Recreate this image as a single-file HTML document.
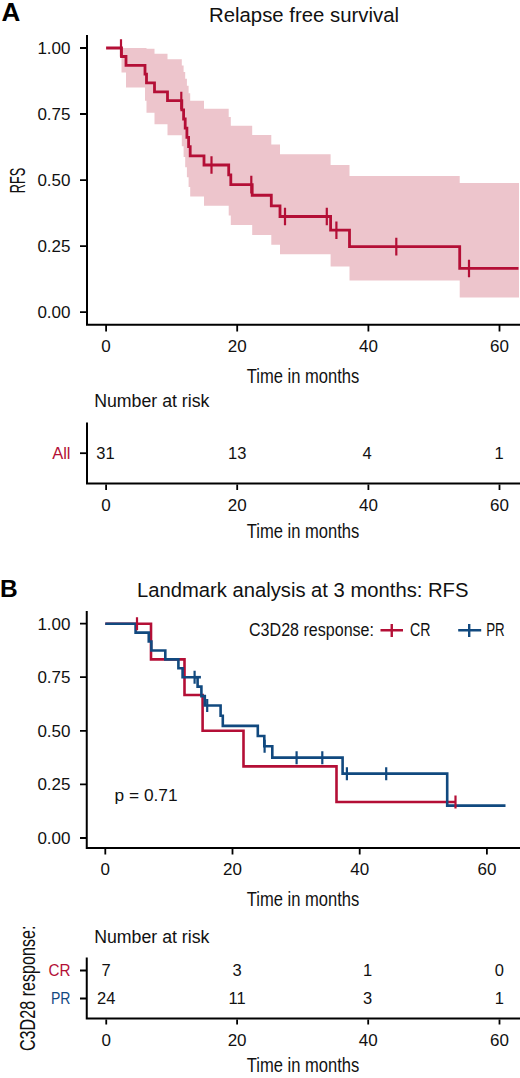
<!DOCTYPE html>
<html><head><meta charset="utf-8"><style>
html,body{margin:0;padding:0;background:#fff;width:520px;height:1078px;overflow:hidden}
svg{display:block}
text{font-family:"Liberation Sans",sans-serif}
</style></head><body>
<svg width="520" height="1078" viewBox="0 0 520 1078">
<rect width="520" height="1078" fill="#fff"/>
<text x="1.5" y="21" font-size="26" fill="#000" font-weight="bold">A</text>
<text x="304" y="22" font-size="20.5" fill="#111" text-anchor="middle" textLength="190" lengthAdjust="spacingAndGlyphs">Relapse free survival</text>
<path d="M121.50,48.00 L126.00,48.00 L126.00,48.00 L145.00,48.00 L145.00,48.00 L146.50,48.00 L146.50,48.70 L154.50,48.70 L154.50,53.77 L167.50,53.77 L167.50,59.35 L181.80,59.35 L181.80,65.42 L183.60,65.42 L183.60,71.88 L185.20,71.88 L185.20,78.70 L186.90,78.70 L186.90,85.81 L188.60,85.81 L188.60,93.20 L190.20,93.20 L190.20,100.85 L204.00,100.85 L204.00,108.73 L228.70,108.73 L228.70,117.08 L230.80,117.08 L230.80,125.70 L252.20,125.70 L252.20,134.88 L271.30,134.88 L271.30,144.42 L280.00,144.42 L280.00,154.31 L330.60,154.31 L330.60,164.97 L349.50,164.97 L349.50,175.91 L459.70,175.91 L459.70,182.91 L519.00,182.91 L519.00,297.40 L459.70,297.40 L459.70,280.62 L349.50,280.62 L349.50,266.52 L330.60,266.52 L330.60,254.22 L280.00,254.22 L280.00,244.84 L271.30,244.84 L271.30,235.08 L252.20,235.08 L252.20,224.94 L230.80,224.94 L230.80,215.47 L228.70,215.47 L228.70,205.71 L204.00,205.71 L204.00,196.47 L190.20,196.47 L190.20,186.98 L188.60,186.98 L188.60,177.24 L186.90,177.24 L186.90,167.22 L185.20,167.22 L185.20,156.89 L183.60,156.89 L183.60,146.21 L181.80,146.21 L181.80,135.13 L167.50,135.13 L167.50,124.22 L154.50,124.22 L154.50,112.79 L146.50,112.79 L146.50,100.67 L145.00,100.67 L145.00,87.52 L126.00,87.52 L126.00,72.44 L121.50,72.44Z" fill="#edc5cc"/>
<path d="M106.1,48.00H121.50V56.52H126.00V65.34H145.00V74.16H146.50V82.97H154.50V91.79H167.50V100.60H181.80V109.80H183.60V119.00H185.20V128.20H186.90V137.40H188.60V146.60H190.20V155.80H204.00V165.00H228.70V174.82H230.80V184.63H252.20V195.26H271.30V205.89H280.00V216.52H330.60V230.19H349.50V246.59H459.70V268.46H518.5" fill="none" stroke="#b40f36" stroke-width="2.8"/>
<path d="M121.00,39.20v17.6M181.30,91.80v17.6M211.50,156.20v17.6M251.30,175.83v17.6M285.00,207.72v17.6M326.80,207.72v17.6M336.40,221.39v17.6M396.30,237.79v17.6M469.00,259.66v17.6" fill="none" stroke="#b40f36" stroke-width="2.2"/>
<path d="M87,35V325.8M86,324.8H520" stroke="#000" stroke-width="2" fill="none"/>
<path d="M80,48H87M80,114H87M80,180.1H87M80,246.1H87M80,312.2H87" stroke="#000" stroke-width="1.8"/>
<text x="70.5" y="54" font-size="17" fill="#111" text-anchor="end">1.00</text>
<text x="70.5" y="120" font-size="17" fill="#111" text-anchor="end">0.75</text>
<text x="70.5" y="186.1" font-size="17" fill="#111" text-anchor="end">0.50</text>
<text x="70.5" y="252.1" font-size="17" fill="#111" text-anchor="end">0.25</text>
<text x="70.5" y="318.2" font-size="17" fill="#111" text-anchor="end">0.00</text>
<path d="M106.1,325V331.5M237.2,325V331.5M368.4,325V331.5M499.5,325V331.5" stroke="#000" stroke-width="1.8"/>
<text x="106.1" y="352" font-size="17" fill="#111" text-anchor="middle">0</text>
<text x="237.2" y="352" font-size="17" fill="#111" text-anchor="middle">20</text>
<text x="368.4" y="352" font-size="17" fill="#111" text-anchor="middle">40</text>
<text x="499.5" y="352" font-size="17" fill="#111" text-anchor="middle">60</text>
<text x="303" y="382.5" font-size="20" fill="#111" text-anchor="middle" textLength="112.5" lengthAdjust="spacingAndGlyphs">Time in months</text>
<text x="0" y="0" font-size="21.5" fill="#111" text-anchor="middle" textLength="25.5" lengthAdjust="spacingAndGlyphs" transform="translate(25.4,180.5) rotate(-90)">RFS</text>
<text x="94.2" y="407" font-size="17.5" fill="#111" textLength="115.2" lengthAdjust="spacingAndGlyphs">Number at risk</text>
<path d="M87,422.5V484.5M86,483.5H520" stroke="#000" stroke-width="2" fill="none"/>
<path d="M80,453.2H87" stroke="#000" stroke-width="1.8"/>
<text x="70.5" y="459" font-size="16.5" fill="#b40f36" text-anchor="end">All</text>
<text x="105.4" y="459" font-size="16.5" fill="#111" text-anchor="middle">31</text>
<text x="237.2" y="459" font-size="16.5" fill="#111" text-anchor="middle">13</text>
<text x="367.2" y="459" font-size="16.5" fill="#111" text-anchor="middle">4</text>
<text x="499.0" y="459" font-size="16.5" fill="#111" text-anchor="middle">1</text>
<path d="M106.1,484.5V490M237.2,484.5V490M368.4,484.5V490M499.5,484.5V490" stroke="#000" stroke-width="1.8"/>
<text x="106.1" y="511" font-size="17" fill="#111" text-anchor="middle">0</text>
<text x="237.2" y="511" font-size="17" fill="#111" text-anchor="middle">20</text>
<text x="368.4" y="511" font-size="17" fill="#111" text-anchor="middle">40</text>
<text x="499.5" y="511" font-size="17" fill="#111" text-anchor="middle">60</text>
<text x="303" y="537.5" font-size="20" fill="#111" text-anchor="middle" textLength="112.5" lengthAdjust="spacingAndGlyphs">Time in months</text>
<text x="0" y="597" font-size="24.5" fill="#000" font-weight="bold">B</text>
<text x="302.7" y="597" font-size="20.5" fill="#111" text-anchor="middle" textLength="331.5" lengthAdjust="spacingAndGlyphs">Landmark analysis at 3 months: RFS</text>
<text x="249" y="636" font-size="17.5" fill="#111" textLength="125" lengthAdjust="spacingAndGlyphs">C3D28 response:</text>
<path d="M380.5,630.3H403M391.75,624V637" stroke="#b40f36" stroke-width="2.4"/>
<text x="410" y="636" font-size="17.5" fill="#111" textLength="20.5" lengthAdjust="spacingAndGlyphs">CR</text>
<path d="M458.2,630.3H481.2M469.2,624V637" stroke="#11497f" stroke-width="2.4"/>
<text x="486.2" y="636" font-size="17.5" fill="#111" textLength="18.5" lengthAdjust="spacingAndGlyphs">PR</text>
<path d="M105.3,623.70H151.00V659.37H184.50V695.03H202.60V730.70H243.50V766.37H336.50V802.03H455.5" fill="none" stroke="#b40f36" stroke-width="2.6"/>
<path d="M105.3,623.70H135.60V632.62H148.75V641.53H151.40V650.45H165.30V659.37H178.40V668.28H182.60V677.20H197.60V686.64H201.40V696.08H204.80V705.52H220.60V715.69H222.80V725.86H257.80V736.03H264.30V746.19H272.30V757.63H342.60V773.65H447.20V805.67H505.5" fill="none" stroke="#11497f" stroke-width="2.6"/>
<path d="M194.6,677.20H200.9" stroke="#11497f" stroke-width="2.6"/>
<path d="M137.00,617.20v13.0M455.50,795.53v13.0" stroke="#b40f36" stroke-width="2.2"/>
<path d="M194.60,670.70v13.0M207.20,699.02v13.0M264.60,739.69v13.0M296.60,751.13v13.0M322.30,751.13v13.0M346.90,767.15v13.0M386.20,767.15v13.0" stroke="#11497f" stroke-width="2.2"/>
<path d="M86.75,611V849M85.75,848H520" stroke="#000" stroke-width="2" fill="none"/>
<path d="M80,623.7H86.75M80,677.2H86.75M80,730.85H86.75M80,784.4H86.75M80,838H86.75" stroke="#000" stroke-width="1.8"/>
<text x="70.5" y="629.7" font-size="17" fill="#111" text-anchor="end">1.00</text>
<text x="70.5" y="683.2" font-size="17" fill="#111" text-anchor="end">0.75</text>
<text x="70.5" y="736.85" font-size="17" fill="#111" text-anchor="end">0.50</text>
<text x="70.5" y="790.4" font-size="17" fill="#111" text-anchor="end">0.25</text>
<text x="70.5" y="844" font-size="17" fill="#111" text-anchor="end">0.00</text>
<path d="M105.3,849V854.6M232.5,849V854.6M359.7,849V854.6M486.9,849V854.6" stroke="#000" stroke-width="1.8"/>
<text x="105.3" y="875.3" font-size="17" fill="#111" text-anchor="middle">0</text>
<text x="232.5" y="875.3" font-size="17" fill="#111" text-anchor="middle">20</text>
<text x="359.7" y="875.3" font-size="17" fill="#111" text-anchor="middle">40</text>
<text x="486.9" y="875.3" font-size="17" fill="#111" text-anchor="middle">60</text>
<text x="303" y="905.5" font-size="20" fill="#111" text-anchor="middle" textLength="112.5" lengthAdjust="spacingAndGlyphs">Time in months</text>
<text x="114.6" y="801.3" font-size="16.5" fill="#111" textLength="63" lengthAdjust="spacingAndGlyphs">p = 0.71</text>
<text x="0" y="0" font-size="22.5" fill="#111" text-anchor="middle" textLength="125.5" lengthAdjust="spacingAndGlyphs" transform="translate(35.3,988.3) rotate(-90)">C3D28 response:</text>
<text x="94.2" y="942.5" font-size="17.5" fill="#111" textLength="115.2" lengthAdjust="spacingAndGlyphs">Number at risk</text>
<path d="M86.75,957.5V1019.5M85.75,1018.5H520" stroke="#000" stroke-width="2" fill="none"/>
<path d="M80,970.5H86.75M80,998.5H86.75" stroke="#000" stroke-width="1.8"/>
<text x="70.5" y="976" font-size="16.5" fill="#b40f36" text-anchor="end" textLength="22" lengthAdjust="spacingAndGlyphs">CR</text>
<text x="70.5" y="1004.3" font-size="16.5" fill="#11497f" text-anchor="end" textLength="19.5" lengthAdjust="spacingAndGlyphs">PR</text>
<text x="106.2" y="976" font-size="16.5" fill="#111" text-anchor="middle">7</text>
<text x="237.1" y="976" font-size="16.5" fill="#111" text-anchor="middle">3</text>
<text x="367.5" y="976" font-size="16.5" fill="#111" text-anchor="middle">1</text>
<text x="499.4" y="976" font-size="16.5" fill="#111" text-anchor="middle">0</text>
<text x="106.2" y="1004.3" font-size="16.5" fill="#111" text-anchor="middle">24</text>
<text x="237.1" y="1004.3" font-size="16.5" fill="#111" text-anchor="middle">11</text>
<text x="367.5" y="1004.3" font-size="16.5" fill="#111" text-anchor="middle">3</text>
<text x="499.4" y="1004.3" font-size="16.5" fill="#111" text-anchor="middle">1</text>
<path d="M106.25,1019.5V1024.5M237.1,1019.5V1024.5M368.2,1019.5V1024.5M499.5,1019.5V1024.5" stroke="#000" stroke-width="1.8"/>
<text x="106.25" y="1045.8" font-size="17" fill="#111" text-anchor="middle">0</text>
<text x="237.1" y="1045.8" font-size="17" fill="#111" text-anchor="middle">20</text>
<text x="368.2" y="1045.8" font-size="17" fill="#111" text-anchor="middle">40</text>
<text x="499.5" y="1045.8" font-size="17" fill="#111" text-anchor="middle">60</text>
<text x="303" y="1072" font-size="20" fill="#111" text-anchor="middle" textLength="112.5" lengthAdjust="spacingAndGlyphs">Time in months</text>
</svg>
</body></html>
